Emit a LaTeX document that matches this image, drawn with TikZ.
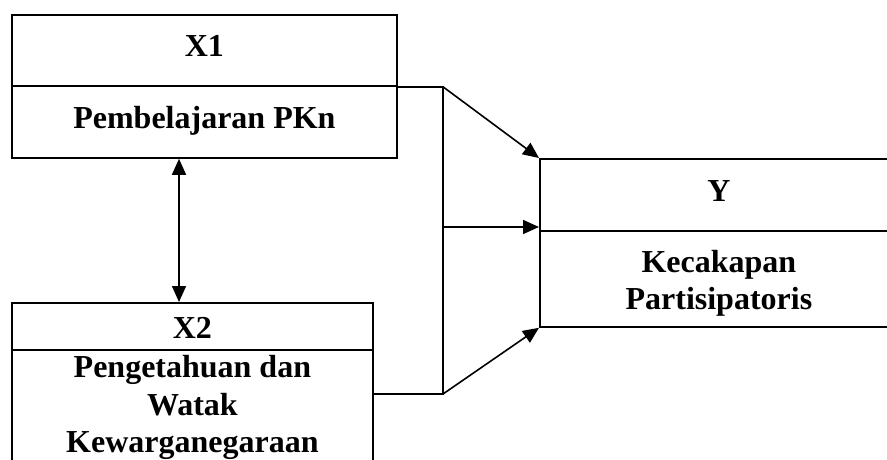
\documentclass[tikz,border=0pt]{standalone}
\usepackage{fontspec}
\setmainfont{Liberation Serif}
\usetikzlibrary{arrows.meta}
\tikzset{
  cell/.style={draw, line width=1.8pt, rectangle, anchor=north west, inner sep=0pt},
  txt/.style={align=center, inner sep=0pt, font=\fontsize{32}{37}\selectfont\bfseries},
  conn/.style={line width=1.6pt},
  arr/.style={conn, -{Triangle[length=16pt,width=14pt]}},
  darr/.style={conn, {Triangle[length=16pt,width=14pt]}-{Triangle[length=16pt,width=14pt]}}
}
\begin{document}
\begin{tikzpicture}[x=1pt,y=-1pt]
\useasboundingbox (0,0) rectangle (887,460);
\clip (0,0) rectangle (887,460);
% X1
\node[cell, minimum width=385pt, minimum height=71pt] (x1top) at (11,14) {};
\node[cell, minimum width=385pt, minimum height=72pt] (x1bot) at (11,85) {};
\node[txt, yshift=4pt] (tx1) at (x1top.center) {X1};
\node[txt, yshift=1pt] (tx1b) at (x1bot.center) {Pembelajaran PKn};
% X2
\node[cell, minimum width=361pt, minimum height=47pt] (x2top) at (11,302) {};
\node[cell, minimum width=361pt, minimum height=114pt] (x2bot) at (11,349) {};
\node[txt, yshift=-2pt] (tx2) at (x2top.center) {X2};
\node[txt, yshift=-1pt] (tx2b) at (x2bot.center) {Pengetahuan dan\\[0.5pt]Watak\\[0.5pt]Kewarganegaraan};
% Y
\node[cell, minimum width=358pt, minimum height=72pt] (ytop) at (539,158) {};
\node[cell, minimum width=358pt, minimum height=96pt] (ybot) at (539,230) {};
\node[txt, yshift=4pt] (ty) at (ytop.center) {Y};
\node[txt, yshift=-4pt] (tyb) at (ybot.center) {Kecakapan\\Partisipatoris};
% junctions
\coordinate (j1) at (x1top.south east -| 443,0);
\coordinate (j3) at (443,227);
\coordinate (j2) at (443,394);
\draw[conn] (x1top.south east) -- (j1) -- (j2) -- (x2bot.east |- j2);
\draw[arr] (j1) -- (ytop.north west);
\draw[arr] (j3) -- (ytop.south west |- j3);
\draw[arr] (j2) -- (ybot.south west);
\draw[darr] (x1bot.south -| 179,0) -- (x2top.north -| 179,0);
\end{tikzpicture}
\end{document}
